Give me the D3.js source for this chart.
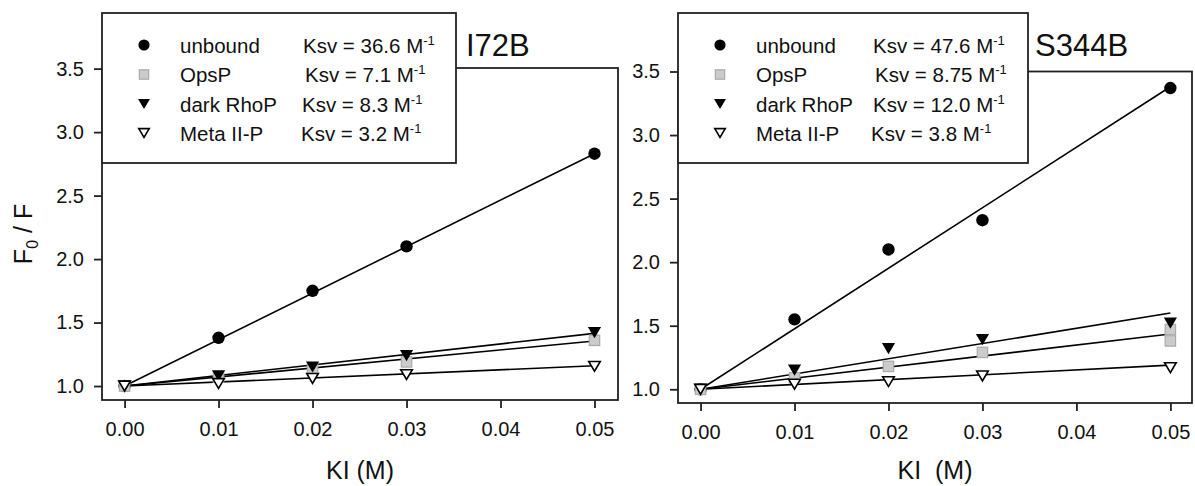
<!DOCTYPE html>
<html>
<head>
<meta charset="utf-8">
<script src="https://cdn.jsdelivr.net/npm/d3@7"></script>
<style>
  html, body { margin: 0; padding: 0; background: #fff; }
  svg { display: block; font-family: "Liberation Sans", Arial, sans-serif; }
</style>
</head>
<body>
<svg id="chart" width="1195" height="486"></svg>
<script>
// ---------------- data ----------------
const kiValues = [0, 0.01, 0.02, 0.03, 0.05];
const xTickValues = [0, 0.01, 0.02, 0.03, 0.04, 0.05];
const yTickValues = [1.0, 1.5, 2.0, 2.5, 3.0, 3.5];
const seriesNames = ["unbound", "OpsP", "dark RhoP", "Meta II-P"];
const fitKi = [0, 0.05];

// I72B panel
const i72bUnbound   = [1.00, 1.38, 1.75, 2.10, 2.83];
const i72bOpsP      = [1.00, 1.07, 1.13, 1.19, 1.36];
const i72bDarkRhoP  = [1.00, 1.08, 1.15, 1.24, 1.42];
const i72bMetaIIP   = [1.00, 1.02, 1.06, 1.09, 1.155];
const i72bKsv       = ["36.6", "7.1", "8.3", "3.2"];
const i72bFitStart  = [1.0, 1.0, 1.0, 1.0];
const i72bFitEnd    = [2.83, 1.355, 1.415, 1.16];

// S344B panel
const s344bUnbound   = [1.00, 1.55, 2.10, 2.33, 3.37];
const s344bOpsPKi    = [0, 0.01, 0.02, 0.03, 0.05, 0.05];
const s344bOpsP      = [1.00, 1.09, 1.18, 1.29, 1.47, 1.38];
const s344bDarkRhoP  = [1.00, 1.15, 1.32, 1.39, 1.52];
const s344bMetaIIP   = [1.00, 1.04, 1.06, 1.105, 1.17];
const s344bKsv       = ["47.6", "8.75", "12.0", "3.8"];
const s344bFitStart  = [1.0, 1.0, 1.0, 1.0];
const s344bFitEnd    = [3.38, 1.435, 1.60, 1.19];

// ---------------- layout ----------------
const panels = [
  {
    title: "I72B", xLabel: "KI (M)",
    frame: {left: 102, right: 618, top: 68, bottom: 400},
    xDomain: [-0.0024, 0.0525], yDomain: [0.89, 3.505],
    legend: {left: 102, right: 456, top: 13, bottom: 163, ksvX: [303, 305, 302, 301]},
    titleX: 466,
    series: [
      {ki: kiValues, v: i72bUnbound},
      {ki: kiValues, v: i72bOpsP},
      {ki: kiValues, v: i72bDarkRhoP},
      {ki: kiValues, v: i72bMetaIIP}
    ],
    ksv: i72bKsv, fitStart: i72bFitStart, fitEnd: i72bFitEnd
  },
  {
    title: "S344B", xLabel: "KI  (M)",
    frame: {left: 678, right: 1192, top: 71.5, bottom: 403},
    xDomain: [-0.0024, 0.0523], yDomain: [0.892, 3.5],
    legend: {left: 678, right: 1028, top: 13, bottom: 163, ksvX: [873, 875, 873, 871]},
    titleX: 1035,
    series: [
      {ki: kiValues, v: s344bUnbound},
      {ki: s344bOpsPKi, v: s344bOpsP},
      {ki: kiValues, v: s344bDarkRhoP},
      {ki: kiValues, v: s344bMetaIIP}
    ],
    ksv: s344bKsv, fitStart: s344bFitStart, fitEnd: s344bFitEnd
  }
];

const markerStyles = [
  {type: "circle"},
  {type: "square"},
  {type: "triDown"},
  {type: "triOpen"}
];

function drawMarker(g, type, x, y, scale) {
  const s = scale || 1;
  if (type === "circle") {
    g.append("circle").attr("cx", x).attr("cy", y).attr("r", 6.2 * s).attr("fill", "#000");
  } else if (type === "square") {
    const h = 5.2 * s;
    g.append("rect").attr("x", x - h).attr("y", y - h).attr("width", 2 * h).attr("height", 2 * h)
      .attr("fill", "#cbcbcb").attr("stroke", "#aaaaaa").attr("stroke-width", 1.2);
  } else if (type === "triDown") {
    const w = 6.6 * s, h = 5.6 * s;
    g.append("path").attr("d", `M${x - w},${y - h}L${x + w},${y - h}L${x},${y + h}Z`).attr("fill", "#000");
  } else if (type === "triOpen") {
    const w = 5.8 * s, h = 4.9 * s;
    g.append("path").attr("d", `M${x - w},${y - h}L${x + w},${y - h}L${x},${y + h}Z`)
      .attr("fill", "#fff").attr("stroke", "#000").attr("stroke-width", 1.6).attr("stroke-linejoin", "miter");
  }
}

const svg = d3.select("#chart");
const axisColor = "#222";

panels.forEach(p => {
  const f = p.frame;
  const x = d3.scaleLinear().domain(p.xDomain).range([f.left, f.right]);
  const y = d3.scaleLinear().domain(p.yDomain).range([f.bottom, f.top]);
  const g = svg.append("g");

  // frame
  g.append("rect").attr("x", f.left).attr("y", f.top)
    .attr("width", f.right - f.left).attr("height", f.bottom - f.top)
    .attr("fill", "none").attr("stroke", axisColor).attr("stroke-width", 1.8);

  // axes
  const xAxis = d3.axisBottom(x).tickValues(xTickValues).tickFormat(d3.format(".2f"))
    .tickSize(8).tickSizeOuter(0).tickPadding(14);
  const gx = g.append("g").attr("transform", `translate(0,${f.bottom})`).call(xAxis);
  gx.select(".domain").remove();
  gx.selectAll("line").attr("stroke", axisColor).attr("stroke-width", 1.8);
  gx.selectAll("text").attr("font-size", 20).attr("fill", "#111")
    .attr("font-family", "Liberation Sans, Arial, sans-serif");

  const yAxis = d3.axisLeft(y).tickValues(yTickValues).tickFormat(d3.format(".1f"))
    .tickSize(8).tickSizeOuter(0).tickPadding(10);
  const gy = g.append("g").attr("transform", `translate(${f.left},0)`).call(yAxis);
  gy.select(".domain").remove();
  gy.selectAll("line").attr("stroke", axisColor).attr("stroke-width", 1.8);
  gy.selectAll("text").attr("font-size", 20).attr("fill", "#111")
    .attr("font-family", "Liberation Sans, Arial, sans-serif");

  // fit lines
  const line = d3.line().x(d => x(d[0])).y(d => y(d[1]));
  p.fitEnd.forEach((e, i) => {
    g.append("path")
      .attr("d", line([[fitKi[0], p.fitStart[i]], [fitKi[1], e]]))
      .attr("fill", "none").attr("stroke", "#000").attr("stroke-width", 1.6);
  });

  // data points
  p.series.forEach((s, i) => {
    const mg = g.append("g");
    s.v.forEach((v, j) => drawMarker(mg, markerStyles[i].type, x(s.ki[j]), y(v), 1));
  });

  // x label
  g.append("text").attr("x", (f.left + f.right) / 2).attr("y", 479)
    .attr("text-anchor", "middle").attr("font-size", 25).attr("fill", "#111")
    .style("white-space", "pre").attr("xml:space", "preserve")
    .text(p.xLabel);

  // legend
  const L = p.legend;
  g.append("rect").attr("x", L.left).attr("y", L.top)
    .attr("width", L.right - L.left).attr("height", L.bottom - L.top)
    .attr("fill", "#fff").attr("stroke", axisColor).attr("stroke-width", 1.8);
  const rowY = [45, 74.5, 104, 133];
  seriesNames.forEach((name, i) => {
    drawMarker(g, markerStyles[i].type, L.left + 42, rowY[i], 0.9);
    g.append("text").attr("x", L.left + 78).attr("y", rowY[i] + 7.5)
      .attr("font-size", 20.5).attr("fill", "#111").text(name);
    const t = g.append("text").attr("x", L.ksvX[i]).attr("y", rowY[i] + 7.5)
      .attr("font-size", 20.5).attr("fill", "#111");
    t.append("tspan").text("Ksv = " + p.ksv[i] + " M");
    t.append("tspan").attr("dy", -8).attr("font-size", 13).text("-1");
  });

  // title
  g.append("text").attr("x", p.titleX).attr("y", 56)
    .attr("font-size", 31).attr("fill", "#111").text(p.title);
});

// y label
const yl = svg.append("text")
  .attr("transform", "translate(32,234) rotate(-90)")
  .attr("text-anchor", "middle").attr("font-size", 25).attr("fill", "#111");
yl.append("tspan").text("F");
yl.append("tspan").attr("dy", 6).attr("font-size", 16).text("0");
yl.append("tspan").attr("dy", -6).text(" / F");
</script>
</body>
</html>
